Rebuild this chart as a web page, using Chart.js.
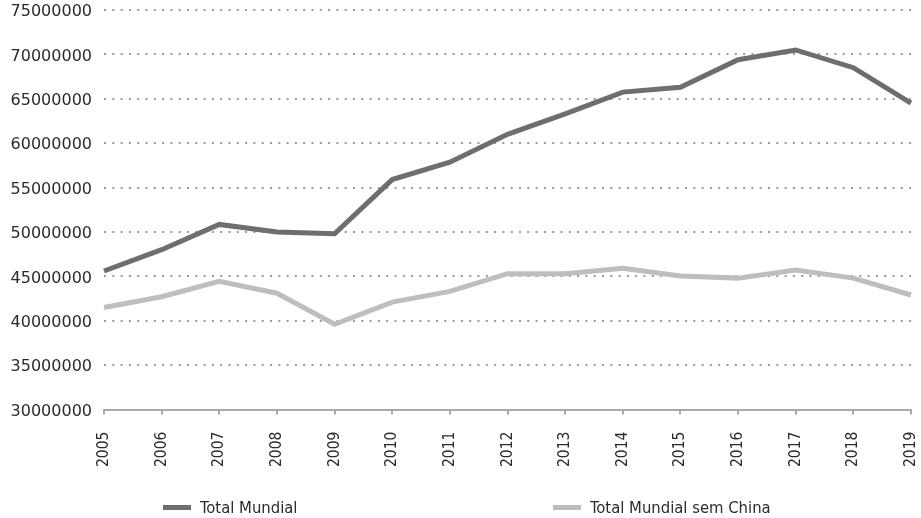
<!DOCTYPE html>
<html>
<head>
<meta charset="utf-8">
<script src="https://cdn.jsdelivr.net/npm/chart.js@4"></script>
<style>
    html, body { margin: 0; padding: 0; background: #fff; }
    #wrap { position: relative; width: 921px; height: 518px; }
    #legend {
        position: absolute; left: 0; top: 496px; width: 921px; height: 22px;
        font-family: "DejaVu Sans Condensed", "DejaVu Sans", sans-serif; font-size: 16.5px; color: #2b2b2b;
    }
    .item { position: absolute; top: 0; display: flex; align-items: center; height: 22px; }
    .swatch { width: 28px; height: 5px; margin-right: 9px; }
</style>
</head>
<body>
<div id="wrap">
    <canvas id="chart" width="921" height="518"></canvas>
    <div id="legend"></div>
</div>
<script>
const years = ['2005', '2006', '2007', '2008', '2009', '2010', '2011', '2012', '2013', '2014', '2015', '2016', '2017', '2018', '2019'];
const totalMundial = [45600000, 48000000, 50850000, 50000000, 49800000, 55900000, 57850000, 61000000, 63300000, 65750000, 66300000, 69400000, 70500000, 68500000, 64500000];
const totalSemChina = [41500000, 42700000, 44450000, 43100000, 39600000, 42100000, 43300000, 45300000, 45300000, 45900000, 45050000, 44800000, 45700000, 44800000, 42900000];
const seriesNames = ['Total Mundial', 'Total Mundial sem China'];
const seriesColors = ['#6d6e71', '#bcbec0'];

const ctx = document.getElementById('chart').getContext('2d');

const chart = new Chart(ctx, {
    type: 'line',
    data: {
        labels: years,
        datasets: [
            {
                label: seriesNames[0],
                data: totalMundial,
                borderColor: seriesColors[0],
                backgroundColor: seriesColors[0],
                borderWidth: 5,
                pointRadius: 0,
                tension: 0
            },
            {
                label: seriesNames[1],
                data: totalSemChina,
                borderColor: seriesColors[1],
                backgroundColor: seriesColors[1],
                borderWidth: 5,
                pointRadius: 0,
                tension: 0
            }
        ]
    },
    options: {
        responsive: false,
        animation: false,
        layout: { padding: { left: 8, right: 10, top: 10, bottom: 34 } },
        plugins: {
            legend: { display: false },
            tooltip: { enabled: false }
        },
        scales: {
            x: {
                afterFit: scale => { scale.paddingLeft = 0; scale.paddingRight = 0; },
                grid: {
                    drawOnChartArea: false,
                    drawTicks: true,
                    tickLength: 5,
                    color: '#a7a9ac',
                    lineWidth: 2
                },
                border: { color: '#a7a9ac', width: 2 },
                ticks: {
                    minRotation: 90,
                    maxRotation: 90,
                    padding: 17,
                    color: '#2b2b2b',
                    font: { family: 'DejaVu Sans Condensed', size: 15.5 }
                }
            },
            y: {
                min: 30000000,
                max: 75000000,
                afterFit: scale => { scale.width = 96; scale.paddingTop = 0; scale.paddingBottom = 0; },
                grid: {
                    drawTicks: false,
                    color: '#9a9a9a',
                    lineWidth: 2
                },
                // in v4 the dash of the grid lines lives under border
                border: { display: false, dash: [2, 6.3] },
                ticks: {
                    stepSize: 5000000,
                    padding: 12,
                    labelOffset: 2,
                    color: '#2b2b2b',
                    font: { family: 'DejaVu Sans', size: 16 },
                    callback: value => String(value)
                }
            }
        }
    }
});

// legend drawn as html so the two items can sit far apart like the original
const legendEl = document.getElementById('legend');
const legendLeft = [163, 553];
seriesNames.forEach((name, i) => {
    const item = document.createElement('div');
    item.className = 'item';
    item.style.left = legendLeft[i] + 'px';
    item.innerHTML = `<span class="swatch" style="background:${seriesColors[i]}"></span><span>${name}</span>`;
    legendEl.appendChild(item);
});
</script>
</body>
</html>
